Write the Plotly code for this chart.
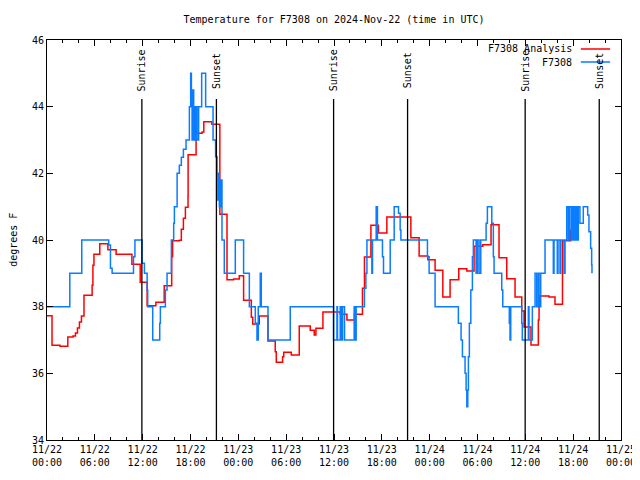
import pandas as pd
import plotly.graph_objects as go

BASE = pd.Timestamp("2024-11-22 00:00")

# ---- F7308 Analysis (red): hours since 11/22 00:00 UTC, degrees F
analysis_hours = [0.0, 0.63, 1.63, 2.61, 3.26, 3.57, 3.82, 4.07, 4.32, 4.64, 5.66, 5.76, 5.89,
                  6.62, 7.64, 8.67, 10.65, 11.69, 12.56, 13.66, 14.70, 15.64, 15.76, 16.60,
                  16.85, 17.11, 17.36, 17.69, 17.70, 18.70, 19.45, 19.67, 20.68, 21.68, 22.58,
                  23.41, 24.12, 24.66, 25.63, 25.81, 26.63, 27.72, 28.63, 28.76, 29.55, 29.70,
                  30.64, 31.64, 32.61, 33.02, 33.52, 33.73, 34.61, 36.78, 37.62, 38.57, 39.57,
                  39.82, 40.63, 41.58, 42.63, 45.64, 46.68, 47.77, 48.68, 49.65, 50.56, 51.65,
                  52.66, 53.57, 54.66, 55.70, 56.70, 57.67, 58.71, 59.55, 59.84, 60.71, 61.63,
                  61.72, 62.97, 63.72, 64.66, 65.69, 65.81, 66.48]
analysis_temp = [37.73, 36.84, 36.81, 37.09, 37.12, 37.21, 37.36, 37.54, 37.72, 38.34, 38.64, 39.24,
                 39.57, 39.89, 39.71, 39.57, 39.27, 38.73, 38.03, 38.13, 38.63, 39.50, 39.98, 39.99,
                 40.32, 40.65, 40.98, 41.31, 42.56, 43.20, 43.24, 43.55, 43.47, 40.77, 38.81,
                 38.83, 38.93, 38.19, 37.68, 37.48, 37.72, 36.97, 36.65, 36.33, 36.50, 36.63,
                 36.55, 37.42, 37.42, 37.29, 37.15, 37.35, 37.84, 37.77, 37.60, 37.77, 38.55,
                 39.49, 40.44, 40.21, 40.69, 40.07, 39.52, 39.41, 39.09, 38.29, 38.81, 39.14,
                 39.07, 39.81, 39.86, 40.46, 39.47, 38.84, 38.29, 37.87, 37.39, 36.85, 37.60,
                 38.32, 38.29, 38.07, 39.98, 40.29, 40.57, 40.57]

# ---- F7308 observations (blue)
station_hours = [0.0, 2.86, 4.36, 7.74, 7.96, 8.17, 10.85, 11.03, 11.93, 12.22, 12.56, 12.63,
                 13.26, 14.14, 14.22, 14.85, 15.06, 15.60, 15.89, 15.98, 16.32, 16.60, 16.85,
                 17.11, 17.44, 17.86, 18.02, 18.11, 18.20, 18.30, 18.40, 18.48, 18.65, 18.73,
                 18.82, 19.02, 19.40, 19.90, 20.83, 21.15, 21.33, 21.43, 21.53, 21.62, 21.70,
                 21.78, 21.87, 21.95, 22.24, 23.62, 24.66, 25.38, 26.13, 26.34, 26.50, 26.75,
                 26.88, 27.72, 30.51, 35.94, 36.37, 36.44, 36.78, 36.94, 37.07, 37.32, 38.53,
                 38.66, 38.78, 39.82, 40.00, 40.13, 40.75, 40.83, 41.29, 41.45, 42.08, 42.21,
                 43.05, 43.55, 44.09, 44.30, 44.39, 47.72, 47.93, 48.68, 51.60, 51.94, 52.11,
                 52.44, 52.57, 52.66, 52.78, 52.86, 52.98, 53.16, 53.36, 53.48, 53.82, 53.99,
                 54.20, 54.41, 55.08, 55.24, 55.79, 55.99, 56.08, 57.04, 57.17, 57.99, 58.08,
                 58.17, 59.55, 59.62, 60.38, 60.46, 60.88, 61.22, 61.43, 61.63, 61.84, 61.93,
                 62.47, 63.51, 63.60, 64.01, 64.10, 64.35, 64.44, 64.85, 64.98, 65.19, 65.39,
                 65.51, 65.73, 65.85, 66.02, 66.14, 66.27, 66.35, 66.52, 66.64, 66.85, 67.27,
                 67.82, 67.98, 68.19, 68.32, 68.36]
station_temp = [38.0, 39.0, 40.0, 39.85, 39.15, 39.0, 39.5, 40.0, 39.3, 39.0, 38.5, 38.0,
                37.0, 37.5, 38.0, 38.5, 39.0, 40.0, 40.5, 41.0, 42.0, 42.24, 42.48,
                42.72, 43.0, 44.0, 45.0, 44.0, 43.0, 44.5, 43.0, 44.0, 43.0, 44.0,
                43.0, 44.0, 45.0, 44.0, 43.0, 42.5, 42.0, 41.2, 42.0, 41.0, 41.8,
                41.0, 41.8, 40.0, 39.0, 40.0, 39.0, 38.0, 37.5, 37.0, 38.0, 39.0,
                38.0, 37.0, 38.0, 37.0, 38.0, 37.0, 38.0, 37.0, 38.0, 37.0, 38.0,
                37.0, 38.0, 38.55, 39.0, 40.0, 39.0, 40.0, 41.0, 40.0, 39.5, 39.0,
                40.0, 41.0, 40.8, 40.3, 40.0, 39.5, 39.0, 38.0, 37.5, 37.0, 36.5,
                36.0, 35.5, 35.0, 35.5, 36.5, 37.5, 38.5, 39.5, 40.0, 39.0, 40.0,
                39.0, 40.0, 40.5, 41.0, 40.5, 39.5, 39.0, 38.5, 38.0, 37.5, 37.0,
                38.0, 37.5, 37.0, 38.0, 37.0, 38.0, 39.0, 38.0, 39.0, 38.0, 39.0,
                40.0, 39.0, 40.0, 39.0, 40.0, 39.0, 40.0, 39.0, 40.0, 41.0, 40.0,
                41.0, 40.0, 41.0, 40.0, 41.0, 40.0, 41.0, 40.0, 41.0, 40.5, 41.0,
                40.75, 40.25, 39.75, 39.25, 39.0]

sunrise_hours = [11.9, 35.95, 59.98]
sunset_hours = [21.25, 45.23, 69.27]
marker_top = 44.23

title_text = "Temperature for F7308 on 2024-Nov-22 (time in UTC)"
y_title = "degrees F"
legend_names = ["F7308 Analysis", "F7308"]
colors = ["#ff0000", "#0a7cff"]

FONT = "DejaVu Sans Mono"


def to_time(hours):
    return BASE + pd.to_timedelta(pd.Series(hours), unit="h")


fig = go.Figure()
fig.add_trace(go.Scatter(x=to_time(analysis_hours), y=analysis_temp, mode="lines",
                         line=dict(color=colors[0], width=1.5, shape="hv"),
                         name=legend_names[0], showlegend=False))
fig.add_trace(go.Scatter(x=to_time(station_hours), y=station_temp, mode="lines",
                         line=dict(color=colors[1], width=1.5, shape="hv"),
                         name=legend_names[1], showlegend=False))

shapes = []
annotations = []
for hrs, label in [(h, "Sunrise") for h in sunrise_hours] + [(h, "Sunset") for h in sunset_hours]:
    t = BASE + pd.Timedelta(hours=hrs)
    shapes.append(dict(type="line", xref="x", yref="y", x0=t, x1=t, y0=34, y1=marker_top,
                       line=dict(color="black", width=1.3), layer="above"))
    annotations.append(dict(x=t, y=45.08, xref="x", yref="y", text=label, textangle=-90,
                            showarrow=False, xanchor="center", yanchor="middle",
                            font=dict(family=FONT, size=10, color="black")))

# gnuplot-style legend (text on the left, sample line on the right)
for i, (name, col, py) in enumerate(zip(legend_names, colors, [0.9775, 0.945])):
    annotations.append(dict(x=0.918, y=py, xref="paper", yref="paper", text=name,
                            showarrow=False, xanchor="right", yanchor="middle",
                            font=dict(family=FONT, size=10, color="black")))
    shapes.append(dict(type="line", xref="paper", yref="paper", x0=0.930, x1=0.981,
                       y0=py, y1=py, line=dict(color=col, width=1.5)))

annotations.append(dict(x=-0.0595, y=0.5, xref="paper", yref="paper", text=y_title,
                        textangle=-90, showarrow=False, xanchor="center", yanchor="middle",
                        font=dict(family=FONT, size=10, color="black")))

# the page body adds an 8px offset, so the figure is 632x472 with margins shifted by 8px
fig.update_layout(
    width=632, height=472,
    margin=dict(l=39, r=19, t=32, b=40, autoexpand=False),
    paper_bgcolor="white", plot_bgcolor="white",
    font=dict(family=FONT, size=10, color="black"),
    title=dict(text=title_text, x=0.5, xref="paper", y=1 - 11 / 472, yref="container",
               xanchor="center", yanchor="middle", automargin=False,
               font=dict(family=FONT, size=10, color="black")),
    shapes=shapes, annotations=annotations,
    showlegend=False,
)
fig.update_xaxes(
    range=[BASE, BASE + pd.Timedelta(hours=72)],
    tickmode="linear", tick0=BASE, dtick=6 * 3600 * 1000,
    tickformat="%m/%d<br>%H:%M",
    ticks="inside", ticklen=6, tickcolor="black",
    minor=dict(dtick=2 * 3600 * 1000, ticks="inside", ticklen=3, tickcolor="black"),
    showline=True, linecolor="black", linewidth=1, mirror="ticks",
    showgrid=False, zeroline=False, automargin=False,
    tickfont=dict(family=FONT, size=10, color="black"),
)
fig.update_yaxes(
    range=[34, 46], tickmode="linear", tick0=34, dtick=2,
    ticks="inside", ticklen=6, tickcolor="black",
    showline=True, linecolor="black", linewidth=1, mirror="ticks",
    showgrid=False, zeroline=False, automargin=False,
    tickfont=dict(family=FONT, size=10, color="black"),
)

fig.write_html("out.html")
